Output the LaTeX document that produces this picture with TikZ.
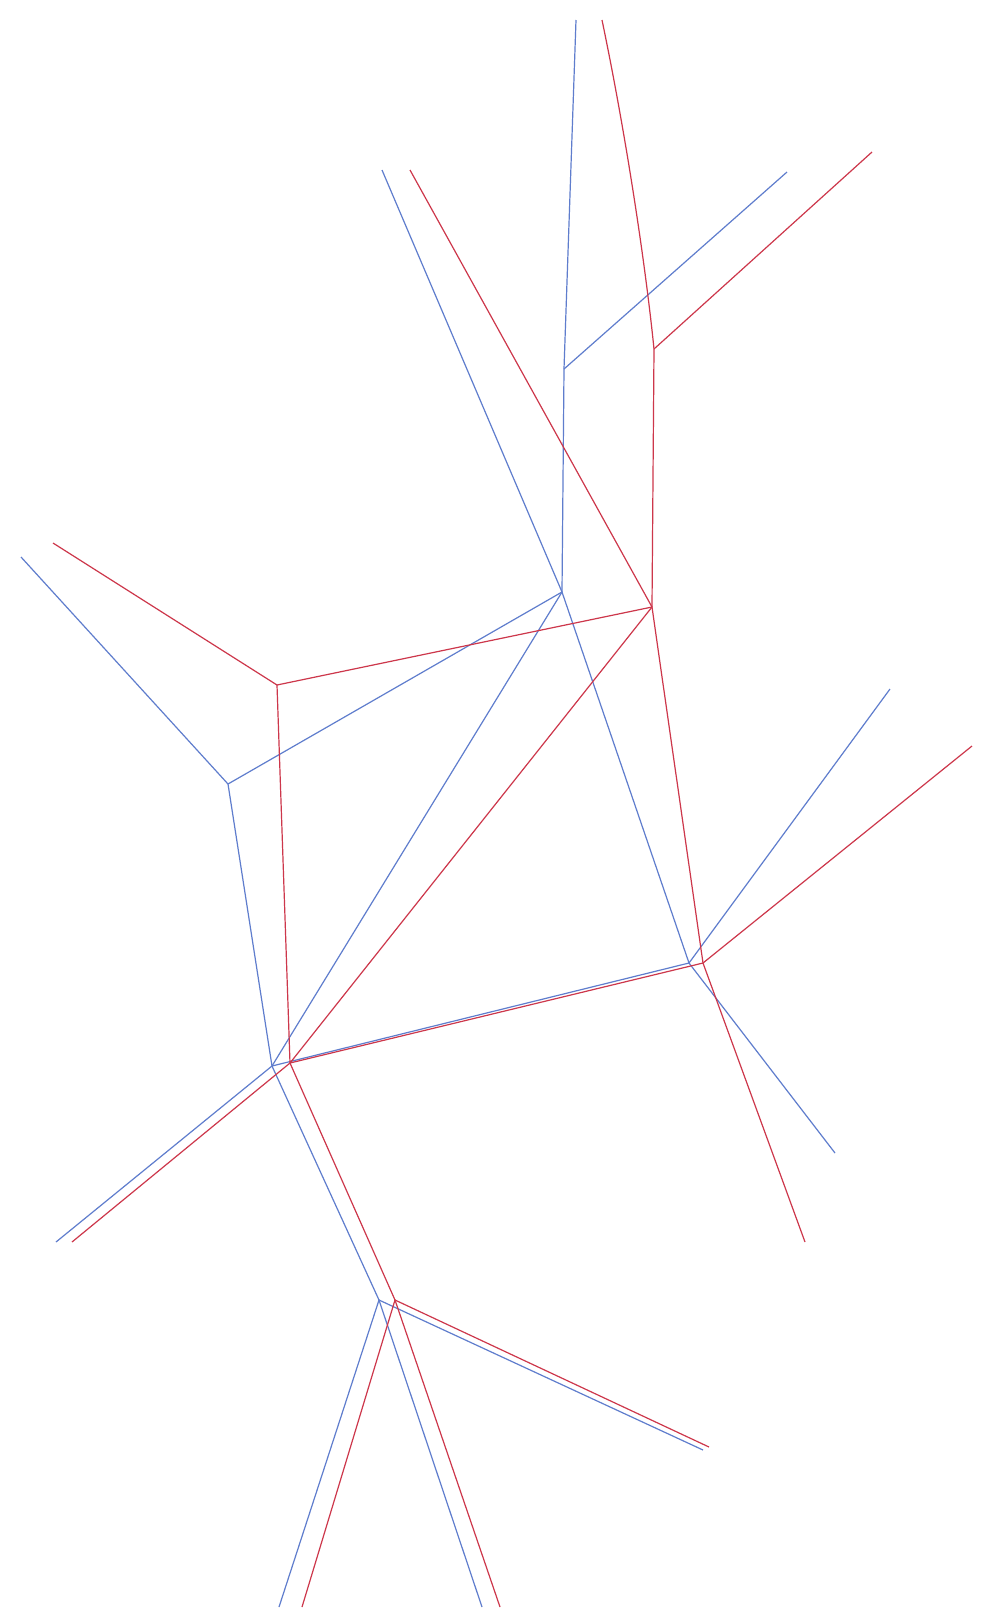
\documentclass[tikz,border=0pt]{standalone}
\begin{document}
\begin{tikzpicture}[x=0.5pt,y=-0.5pt,
  bl/.style={draw={rgb,255:red,95;green,125;blue,205},line width=0.6pt},
  rd/.style={draw={rgb,255:red,205;green,55;blue,75},line width=0.6pt}]
\useasboundingbox[fill=white] (0,0) rectangle (984,1608);
% blue graph
\coordinate (bt) at (576,20);
\coordinate (ba) at (564,369);
\coordinate (bur) at (787,172);
\coordinate (btl) at (382,170);
\coordinate (bb) at (562,592);
\coordinate (bl) at (228,784);
\coordinate (ble) at (21,557);
\coordinate (blb) at (272,1066);
\coordinate (bri) at (689,963);
\coordinate (bru) at (890,689);
\coordinate (brd) at (835,1153);
\coordinate (blle) at (56,1242);
\coordinate (blow) at (379,1300);
\coordinate (bbl) at (279,1607);
\coordinate (bbr) at (482,1607);
\coordinate (blr) at (703,1450);
% red graph
\coordinate (rt) at (602,20);
\coordinate (ra) at (654,349);
\coordinate (rur) at (872,152);
\coordinate (rtl) at (410,170);
\coordinate (rb) at (652,607);
\coordinate (rl) at (277,685);
\coordinate (rle) at (53,543);
\coordinate (rlb) at (290,1063);
\coordinate (rri) at (703,963);
\coordinate (rru) at (972,746);
\coordinate (rrd) at (805,1242);
\coordinate (rlle) at (72,1242);
\coordinate (rlow) at (395,1300);
\coordinate (rbl) at (302,1607);
\coordinate (rbr) at (500,1607);
\coordinate (rlr) at (709,1447);
% blue edges
\draw[bl] (bt) -- (ba);
\draw[bl] (ba) -- (bur);
\draw[bl] (ba) -- (bb);
\draw[bl] (btl) -- (bb);
\draw[bl] (bb) -- (bri);
\draw[bl] (bb) -- (bl);
\draw[bl] (bb) -- (blb);
\draw[bl] (bl) -- (ble);
\draw[bl] (bl) -- (blb);
\draw[bl] (blb) -- (bri);
\draw[bl] (blb) -- (blle);
\draw[bl] (blb) -- (blow);
\draw[bl] (blow) -- (bbl);
\draw[bl] (blow) -- (bbr);
\draw[bl] (blow) -- (blr);
\draw[bl] (bri) -- (bru);
\draw[bl] (bri) -- (brd);
% red edges
\draw[rd] (rt) .. controls (625,130) and (645,260) .. (ra);
\draw[rd] (ra) -- (rur);
\draw[rd] (ra) -- (rb);
\draw[rd] (rtl) -- (rb);
\draw[rd] (rb) -- (rri);
\draw[rd] (rb) -- (rl);
\draw[rd] (rb) -- (rlb);
\draw[rd] (rl) -- (rle);
\draw[rd] (rl) -- (rlb);
\draw[rd] (rlb) -- (rri);
\draw[rd] (rlb) -- (rlle);
\draw[rd] (rlb) -- (rlow);
\draw[rd] (rlow) -- (rbl);
\draw[rd] (rlow) -- (rbr);
\draw[rd] (rlow) -- (rlr);
\draw[rd] (rri) -- (rru);
\draw[rd] (rri) -- (rrd);
\end{tikzpicture}
\end{document}
